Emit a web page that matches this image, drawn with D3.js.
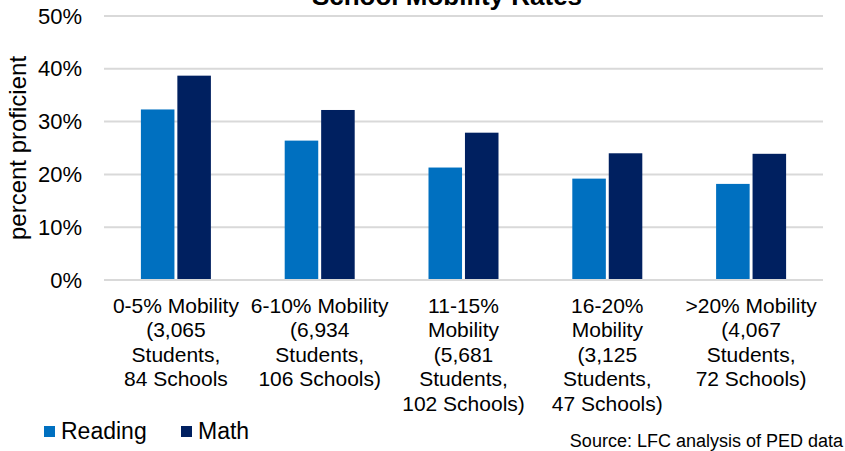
<!DOCTYPE html>
<html>
<head>
<meta charset="utf-8">
<script src="https://cdn.jsdelivr.net/npm/d3@7"></script>
<style>
  body { margin: 0; background: #fff; }
  svg { font-family: "Liberation Sans", Arial, sans-serif; }
</style>
</head>
<body>
<svg id="chart" width="845" height="451"></svg>
<script>
// chart values
const categories = ["0-5%", "6-10%", "11-15%", "16-20%", ">20%"];
const categoryLabels = [
  ["0-5% Mobility", "(3,065", "Students,", "84 Schools"],
  ["6-10% Mobility", "(6,934", "Students,", "106 Schools)"],
  ["11-15%", "Mobility", "(5,681", "Students,", "102 Schools)"],
  ["16-20%", "Mobility", "(3,125", "Students,", "47 Schools)"],
  [">20% Mobility", "(4,067", "Students,", "72 Schools)"]
];
const seriesNames = ["Reading", "Math"];
const readingValues = [0.323, 0.264, 0.213, 0.192, 0.182];
const mathValues = [0.387, 0.322, 0.279, 0.240, 0.239];
const yTicks = [0, 0.1, 0.2, 0.3, 0.4, 0.5];
const colors = ["#0070C0", "#002060"];

const svg = d3.select('#chart');
const margin = { top: 16, right: 22, bottom: 171, left: 104 };
const width = 845 - margin.left - margin.right;
const height = 451 - margin.top - margin.bottom;

const g = svg.append('g')
  .attr('transform', `translate(${margin.left},${margin.top})`);

const x0 = d3.scaleBand().domain(categories).range([0, width]).padding(0);
const x1 = d3.scaleBand().domain(seriesNames)
  .range([x0.bandwidth() / 2 - 35, x0.bandwidth() / 2 + 35])
  .paddingInner(0.08);
const y = d3.scaleLinear().domain([0, 0.5]).range([height, 0]);

// gridlines
g.append('g')
  .selectAll('line')
  .data(yTicks)
  .join('line')
  .attr('x1', 0)
  .attr('x2', width)
  .attr('y1', d => y(d))
  .attr('y2', d => y(d))
  .attr('stroke', '#d9d9d9')
  .attr('stroke-width', 2);

// y axis labels
const yAxis = g.append('g')
  .call(d3.axisLeft(y).tickValues(yTicks).tickFormat(d3.format('.0%')).tickSize(0).tickPadding(22));
yAxis.select('.domain').remove();
yAxis.selectAll('text')
  .attr('font-size', 22)
  .attr('fill', '#000')
  .attr('font-family', '"Liberation Sans", Arial, sans-serif');

// bars
const rows = categories.map((c, i) => ({ cat: c, values: [readingValues[i], mathValues[i]] }));
g.append('g')
  .selectAll('g')
  .data(rows)
  .join('g')
  .attr('transform', d => `translate(${x0(d.cat)},0)`)
  .selectAll('rect')
  .data(d => d.values.map((v, j) => ({ key: seriesNames[j], value: v, idx: j })))
  .join('rect')
  .attr('x', d => x1(d.key))
  .attr('width', x1.bandwidth())
  .attr('y', d => y(d.value))
  .attr('height', d => y(0) - y(d.value) - 1)
  .attr('fill', d => colors[d.idx]);

// x axis labels (wrapped)
const xAxis = g.append('g')
  .attr('transform', `translate(0,${height})`)
  .call(d3.axisBottom(x0).tickSize(0).tickFormat(''));
xAxis.select('.domain').remove();
xAxis.selectAll('.tick text')
  .attr('y', 0)
  .attr('dy', null)
  .attr('font-size', 21)
  .attr('fill', '#000')
  .attr('font-family', '"Liberation Sans", Arial, sans-serif')
  .each(function (d, i) {
    d3.select(this).selectAll('tspan')
      .data(categoryLabels[i])
      .join('tspan')
      .attr('x', 0)
      .attr('y', (t, k) => 33 + k * 24.4)
      .text(t => t);
  });

// title (clipped at the top like the source)
svg.append('text')
  .attr('x', 447)
  .attr('y', 5)
  .attr('text-anchor', 'middle')
  .attr('font-size', 26)
  .attr('font-weight', 'bold')
  .attr('fill', '#000')
  .text('School Mobility Rates');

// y axis title
svg.append('text')
  .attr('transform', `translate(26,148) rotate(-90)`)
  .attr('text-anchor', 'middle')
  .attr('font-size', 24)
  .attr('fill', '#000')
  .text('percent proficient');

// legend
const legend = svg.append('g').attr('transform', 'translate(44,426)');
const legendX = [0, 137];
seriesNames.forEach((name, i) => {
  const item = legend.append('g').attr('transform', `translate(${legendX[i]},0)`);
  item.append('rect')
    .attr('width', 11)
    .attr('height', 11)
    .attr('fill', colors[i]);
  item.append('text')
    .attr('x', 17)
    .attr('y', 13)
    .attr('font-size', 23)
    .attr('fill', '#000')
    .text(name);
});

// source note
svg.append('text')
  .attr('x', 843)
  .attr('y', 447)
  .attr('text-anchor', 'end')
  .attr('font-size', 18)
  .attr('fill', '#000')
  .text('Source: LFC analysis of PED data');
</script>
</body>
</html>
